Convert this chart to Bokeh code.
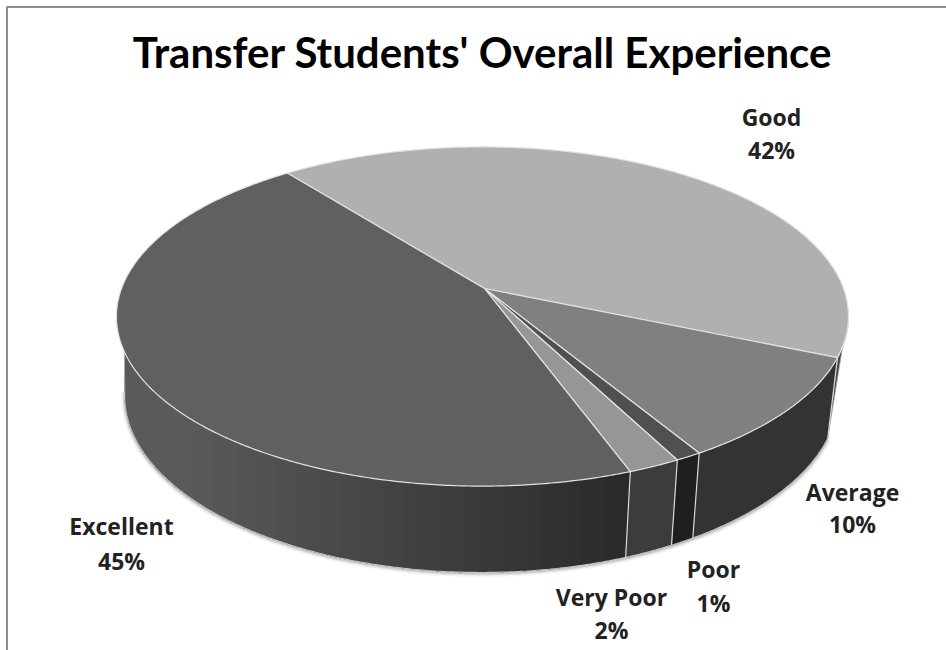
import numpy as np
from bokeh.core.properties import value
from bokeh.embed import file_html
from bokeh.models import Range1d
from bokeh.plotting import figure
from bokeh.resources import INLINE

# Survey shares, clockwise from the upper-left rim of the disc
categories = ["Good", "Average", "Poor", "Very Poor", "Excellent"]
shares = [42, 10, 1, 2, 45]
top_colors = ["#b0b0b0", "#808080", "#505050", "#969696", "#606060"]
side_colors = ["#484848", "#333333", "#1f1f1f", "#3c3c3c", None]
label_centres = [(771, 116.5, 149.5), (852, 491.5, 523), (713, 568.5, 602), (611, 596.5, 629), (121, 525.5, 560)]

START_DEG = -38.0
WIDTH, HEIGHT = 946, 650
TITLE_FONT = "Lato"
LABEL_FONT = "Open Sans"

# Perspective disc: upper and lower rims of the cylinder
TILT = 0.165
LEAN = -0.0055
TOP = dict(cx=484.0, cy=288.0, sx=361.0, sy=165.0)
BOTTOM = dict(cx=483.0, cy=366.0, sx=352.0, sy=172.0)

# Rim angles where the wall leaves view on each side
WALL_RIGHT_TOP = 98.0
WALL_LEFT_TOP = 272.0
WALL_LEFT_BOTTOM = 262.0


def project(theta_deg, radius, plane):
    t = np.radians(theta_deg)
    a = radius * np.sin(t)
    b = -radius * np.cos(t)
    w = 1 - TILT * b - LEAN * a
    return plane["cx"] + plane["sx"] * a / w, plane["cy"] + plane["sy"] * b / w


def arc(start, stop, plane):
    n = max(int(abs(stop - start) * 2), 2)
    return project(np.linspace(start, stop, n), 1.0, plane)


p = figure(width=WIDTH, height=HEIGHT, output_backend="svg", toolbar_location=None,
           x_range=Range1d(0, WIDTH), y_range=Range1d(HEIGHT, 0),
           min_border=0, outline_line_color=None, background_fill_color="white")
p.xaxis.visible = False
p.yaxis.visible = False
p.grid.visible = False

# Chart-area border along the top and left
p.line([6.5, 6.5, WIDTH], [HEIGHT, 6.5, 6.5], line_color="#8c8c8c", line_width=2)

# Slice boundaries in degrees
bounds = START_DEG + np.cumsum([0] + shares) * 3.6
good_avg = bounds[1]

# Soft shadow below the cylinder
bx, by = arc(good_avg, WALL_LEFT_BOTTOM, BOTTOM)
for width, alpha in [(7, 0.08), (4, 0.14), (2, 0.2)]:
    p.line(bx, by + 1, line_color="#707070", line_width=width, line_alpha=alpha)

# Side wall of the Excellent slice: upright bands on whole pixels, one per grey level,
# each running under the next so that no seam shows between them
exc_start = bounds[4]
top_x, top_y = arc(exc_start, WALL_LEFT_TOP, TOP)
low_x, low_y = arc(exc_start, WALL_LEFT_BOTTOM, BOTTOM)
low_x, low_y = np.r_[low_x, top_x[-1]], np.r_[low_y, top_y[-1]]
right_x, left_x = max(top_x[0], low_x[0]), top_x[-1]
band_edges = np.round(np.linspace(right_x, left_x, 41))
for x0, x1 in zip(band_edges[:-1], band_edges[1:]):
    f = (right_x - x0) / (right_x - left_x)
    g = int(round(0x2a + (0x5a - 0x2a) * min(f * 1.15, 1.0)))
    xs = np.linspace(x0, left_x, max(int(x0 - left_x), 2))
    y_up = np.interp(xs, top_x[::-1], top_y[::-1])
    y_low = np.interp(xs, low_x[::-1], low_y[::-1])
    color = "#%02x%02x%02x" % (g, g, g)
    p.patch(np.r_[xs, xs[::-1]], np.r_[y_up, y_low[::-1]], fill_color=color, line_color=None)

# Side wall of the other slices; the Good slice only shows as a sliver at the right
tx, ty = arc(WALL_RIGHT_TOP, good_avg, TOP)
ux, uy = project(good_avg, 1.0, BOTTOM)
p.patch(np.r_[tx, ux], np.r_[ty, uy], fill_color=side_colors[0], line_color="#a8a8a8", line_width=0.8)
for i in range(1, 4):
    tx, ty = arc(bounds[i], bounds[i + 1], TOP)
    ux, uy = arc(bounds[i + 1], bounds[i], BOTTOM)
    p.patch(np.r_[tx, ux], np.r_[ty, uy], fill_color=side_colors[i], line_color=side_colors[i], line_width=0.5)

# Light seams on the wall at each slice boundary
for b in bounds[1:5]:
    tx, ty = project(b, 1.0, TOP)
    ux, uy = project(b, 1.0, BOTTOM)
    p.line([tx, ux], [ty, uy], line_color="#d8d8d8", line_width=1.2)

# Bright lower rim and left edge of the wall
p.line(bx, by, line_color="#c4c4c4", line_width=1.2)
lx0, ly0 = project(WALL_LEFT_TOP, 1.0, TOP)
lx1, ly1 = project(WALL_LEFT_BOTTOM, 1.0, BOTTOM)
p.line([lx0, lx1], [ly0, ly1], line_color="#b0b0b0", line_width=1)

# Top face of each slice
for i in range(5):
    x, y = arc(bounds[i], bounds[i + 1], TOP)
    p.patch(np.r_[TOP["cx"], x], np.r_[TOP["cy"], y], fill_color=top_colors[i],
            line_color="#e2e2e2", line_width=1.2, line_join="round")

# Title and data labels
p.text([482], [51.5], text=["Transfer Students' Overall Experience"], text_font=value(TITLE_FONT),
       text_font_style="bold", text_font_size="42px", text_color="black",
       text_align="center", text_baseline="middle")
for cat, share, (lx, y1, y2) in zip(categories, shares, label_centres):
    p.text([lx], [y1], text=[cat], text_font=value(LABEL_FONT), text_font_size="23px",
           text_font_style="bold", text_color="#222222", text_align="center", text_baseline="middle")
    p.text([lx], [y2], text=["%d%%" % share], text_font=value(LABEL_FONT), text_font_size="23px",
           text_font_style="bold", text_color="#222222", text_align="center", text_baseline="middle")

open("out.html", "w").write(file_html(p, INLINE))
